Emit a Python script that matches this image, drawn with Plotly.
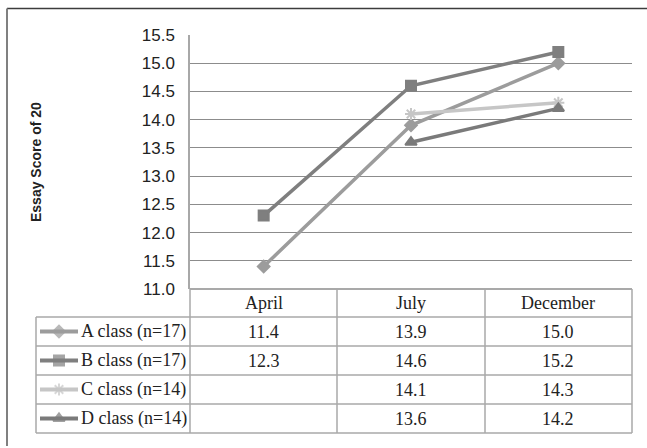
import plotly.graph_objects as go

# ---- data -------------------------------------------------------------
months = ["April", "July", "December"]
class_names = ["A class (n=17)", "B class (n=17)", "C class (n=14)", "D class (n=14)"]
a_scores = [11.4, 13.9, 15.0]
b_scores = [12.3, 14.6, 15.2]
c_scores = [None, 14.1, 14.3]
d_scores = [None, 13.6, 14.2]
y_ticks = [11.0, 11.5, 12.0, 12.5, 13.0, 13.5, 14.0, 14.5, 15.0, 15.5]
y_title = "Essay Score of 20"

series = [a_scores, b_scores, c_scores, d_scores]
colors = ["#9c9c9c", "#7f7f7f", "#c6c6c6", "#7a7a7a"]
symbols = ["diamond", "square", "asterisk-open", "triangle-up"]
msizes = [9, 10, 10, 10]

# ---- page geometry (pixels) -----------------------------------------
W, H = 647, 448
PLOT_L, PLOT_R, PLOT_T, PLOT_B = 190, 632, 35, 289
TABLE_L = 36
ROW_EDGES = [289, 317, 346, 375, 404, 433]
COL_EDGES = [190, 337, 485, 632]


def px(x):
    return x / W


def py(y):
    return 1 - y / H


fig = go.Figure()

# main line series
for name, vals, col, sym, ms in zip(class_names, series, colors, symbols, msizes):
    fig.add_trace(go.Scatter(
        x=months, y=vals, name=name, mode="lines+markers",
        line=dict(color=col, width=3.5),
        marker=dict(symbol=sym, size=ms, color=col,
                    line=dict(color=col, width=2)),
        connectgaps=False, showlegend=False, cliponaxis=False,
    ))

# legend keys drawn inside the data table (overlay axes in pixel units)
for i, (col, sym, ms) in enumerate(zip(colors, symbols, msizes)):
    yc = (ROW_EDGES[i + 1] + ROW_EDGES[i + 2]) / 2
    fig.add_trace(go.Scatter(
        x=[40, 59, 78], y=[yc, yc, yc], mode="lines+markers",
        line=dict(color=col, width=4),
        marker=dict(symbol=sym, size=[0, ms, 0], color=col,
                    line=dict(color=col, width=2)),
        xaxis="x2", yaxis="y2", showlegend=False, hoverinfo="skip",
        cliponaxis=False,
    ))

shapes = []
tline = dict(color="#a8a8a8", width=1.5)

# horizontal table rules
shapes.append(dict(type="line", xref="paper", yref="paper",
                   x0=px(PLOT_L), x1=px(PLOT_R), y0=py(ROW_EDGES[0]), y1=py(ROW_EDGES[0]),
                   line=dict(color="#8c8c8c", width=1.5)))
for ye in ROW_EDGES[1:]:
    shapes.append(dict(type="line", xref="paper", yref="paper",
                       x0=px(TABLE_L), x1=px(PLOT_R), y0=py(ye), y1=py(ye), line=tline))
# vertical table rules
shapes.append(dict(type="line", xref="paper", yref="paper",
                   x0=px(TABLE_L), x1=px(TABLE_L), y0=py(ROW_EDGES[1]), y1=py(ROW_EDGES[-1]),
                   line=tline))
for xe in COL_EDGES:
    shapes.append(dict(type="line", xref="paper", yref="paper",
                       x0=px(xe), x1=px(xe), y0=py(ROW_EDGES[0]), y1=py(ROW_EDGES[-1]),
                       line=tline))

# outer chart frame (top and left edges)
shapes.append(dict(type="line", xref="paper", yref="paper",
                   x0=px(7), x1=1, y0=py(8.5), y1=py(8.5),
                   line=dict(color="#3c3c3c", width=1.5)))
shapes.append(dict(type="line", xref="paper", yref="paper",
                   x0=px(7), x1=px(7), y0=py(8.5), y1=py(446),
                   line=dict(color="#808080", width=2)))

annotations = []
serif = dict(family="Liberation Serif, Times New Roman, serif", size=18, color="#222222")

# header row
hc = (ROW_EDGES[0] + ROW_EDGES[1]) / 2
for m in months:
    annotations.append(dict(x=m, xref="x", y=py(hc), yref="paper", text=m,
                            showarrow=False, font=serif, xanchor="center", yanchor="middle"))

# body rows
for i, (name, vals) in enumerate(zip(class_names, series)):
    yc = (ROW_EDGES[i + 1] + ROW_EDGES[i + 2]) / 2
    annotations.append(dict(x=px(79), xref="paper", y=py(yc), yref="paper", text=name,
                            showarrow=False, font=serif, xanchor="left", yanchor="middle"))
    for m, v in zip(months, vals):
        if v is None:
            continue
        annotations.append(dict(x=m, xref="x", y=py(yc), yref="paper", text=f"{v:.1f}",
                                showarrow=False, font=serif, xanchor="center",
                                yanchor="middle"))

# y-axis title
annotations.append(dict(x=px(36), xref="paper", y=py((PLOT_T + PLOT_B) / 2), yref="paper",
                        text=f"<b>{y_title}</b>", textangle=-90, showarrow=False,
                        font=dict(family="Liberation Sans, Arial, sans-serif", size=14,
                                  color="#222222"),
                        xanchor="center", yanchor="middle"))

fig.update_layout(
    width=W, height=H,
    margin=dict(l=0, r=0, t=0, b=0, pad=0, autoexpand=False),
    paper_bgcolor="white",
    plot_bgcolor="rgba(0,0,0,0)",
    xaxis=dict(domain=[px(PLOT_L), px(PLOT_R)], type="category", range=[-0.5, 2.5],
               showticklabels=False, showgrid=False, zeroline=False, showline=False,
               ticks="", anchor="y", automargin=False),
    yaxis=dict(domain=[py(PLOT_B), py(PLOT_T)], range=[11.0, 15.5],
               tickvals=y_ticks, ticktext=[f"{t:.1f}" for t in y_ticks],
               showgrid=True, gridcolor="#8c8c8c", gridwidth=1,
               showline=True, linecolor="#a8a8a8", linewidth=1.5,
               zeroline=False, ticks="", ticklabelstandoff=10,
               tickfont=dict(family="Liberation Sans, Arial, sans-serif", size=17,
                             color="#222222"),
               anchor="x", automargin=False),
    xaxis2=dict(domain=[0, 1], range=[0, W], visible=False, anchor="y2",
                automargin=False),
    yaxis2=dict(domain=[0, 1], range=[H, 0], visible=False, anchor="x2",
                automargin=False),
    shapes=shapes,
    annotations=annotations,
)

fig.write_html("out.html")
